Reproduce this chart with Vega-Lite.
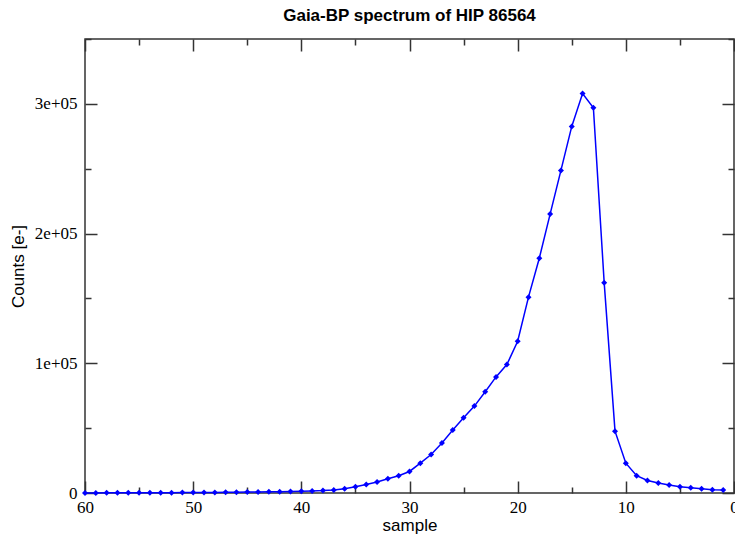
{
  "$schema": "https://vega.github.io/schema/vega-lite/v6.json",
  "width": 649,
  "height": 454,
  "autosize": {"type": "none"},
  "padding": {"left": 85, "top": 39, "right": 1, "bottom": 41},
  "background": "white",
  "title": {"text": "Gaia-BP spectrum of HIP 86564", "font": "Liberation Sans", "fontSize": 17, "fontWeight": "bold", "color": "black", "offset": 5, "anchor": "middle"},
  "config": {
    "view": {"stroke": "#333", "strokeWidth": 1.5},
    "axis": {"labelFont": "Liberation Serif", "labelFontSize": 17, "labelColor": "black", "titleFont": "Liberation Sans", "titleFontSize": 17, "titleFontWeight": "normal", "titleColor": "black", "tickColor": "#333", "tickWidth": 1.5, "domain": false, "grid": false}
  },
  "data": {"values": [
    {"sample": 1, "counts": 2300}, {"sample": 2, "counts": 2600}, {"sample": 3, "counts": 3300}, {"sample": 4, "counts": 4000}, {"sample": 5, "counts": 4800},
    {"sample": 6, "counts": 6100}, {"sample": 7, "counts": 7700}, {"sample": 8, "counts": 9700}, {"sample": 9, "counts": 13300}, {"sample": 10, "counts": 23000},
    {"sample": 11, "counts": 47700}, {"sample": 12, "counts": 162000}, {"sample": 13, "counts": 297000}, {"sample": 14, "counts": 308000}, {"sample": 15, "counts": 282600},
    {"sample": 16, "counts": 248700}, {"sample": 17, "counts": 215000}, {"sample": 18, "counts": 181000}, {"sample": 19, "counts": 151000}, {"sample": 20, "counts": 117000},
    {"sample": 21, "counts": 99000}, {"sample": 22, "counts": 89500}, {"sample": 23, "counts": 78000}, {"sample": 24, "counts": 67000}, {"sample": 25, "counts": 58000},
    {"sample": 26, "counts": 48500}, {"sample": 27, "counts": 38500}, {"sample": 28, "counts": 29700}, {"sample": 29, "counts": 23000}, {"sample": 30, "counts": 16600},
    {"sample": 31, "counts": 13300}, {"sample": 32, "counts": 11000}, {"sample": 33, "counts": 8500}, {"sample": 34, "counts": 6600}, {"sample": 35, "counts": 4800},
    {"sample": 36, "counts": 3300}, {"sample": 37, "counts": 2400}, {"sample": 38, "counts": 1900}, {"sample": 39, "counts": 1600}, {"sample": 40, "counts": 1400},
    {"sample": 41, "counts": 1200}, {"sample": 42, "counts": 1050}, {"sample": 43, "counts": 900}, {"sample": 44, "counts": 800}, {"sample": 45, "counts": 700},
    {"sample": 46, "counts": 600}, {"sample": 47, "counts": 500}, {"sample": 48, "counts": 450}, {"sample": 49, "counts": 400}, {"sample": 50, "counts": 350},
    {"sample": 51, "counts": 300}, {"sample": 52, "counts": 260}, {"sample": 53, "counts": 220}, {"sample": 54, "counts": 190}, {"sample": 55, "counts": 160},
    {"sample": 56, "counts": 140}, {"sample": 57, "counts": 120}, {"sample": 58, "counts": 100}, {"sample": 59, "counts": 80}, {"sample": 60, "counts": 60}
  ]},
  "layer": [
    {
      "mark": {"type": "line", "color": "#0000ff", "strokeWidth": 1.5},
      "encoding": {
        "x": {"field": "sample", "type": "quantitative", "scale": {"domain": [0, 60], "reverse": true, "nice": false, "zero": false},
          "axis": {"orient": "bottom", "title": "sample", "values": [0,5,10,15,20,25,30,35,40,45,50,55,60], "labelExpr": "datum.value % 10 === 0 ? datum.label : ''", "labelFlush": false, "labelOverlap": false, "labelBound": false, "labelPadding": 18, "titlePadding": -4,
            "tickSize": {"condition": {"test": "datum.value % 10 === 0", "value": -12}, "value": -6}}},
        "y": {"field": "counts", "type": "quantitative", "scale": {"domain": [0, 350000], "nice": false},
          "axis": {"orient": "left", "title": "Counts [e-]", "values": [0,50000,100000,150000,200000,250000,300000,350000], "labelExpr": "datum.value === 0 ? '0' : (datum.value % 100000 === 0 ? format(datum.value/100000, 'd') + 'e+05' : '')", "labelOverlap": false, "labelFlush": false, "labelBound": false, "labelPadding": 20, "titlePadding": 7,
            "tickSize": {"condition": {"test": "datum.value % 100000 === 0", "value": -12}, "value": -6}}}
      }
    },
    {
      "mark": {"type": "point", "shape": "diamond", "filled": true, "color": "#0000ff", "size": 36, "opacity": 1},
      "encoding": {
        "x": {"field": "sample", "type": "quantitative",
          "axis": {"orient": "top", "title": null, "labels": false, "values": [0,5,10,15,20,25,30,35,40,45,50,55,60],
            "tickSize": {"condition": {"test": "datum.value % 10 === 0", "value": -12}, "value": -6}}},
        "y": {"field": "counts", "type": "quantitative",
          "axis": {"orient": "right", "title": null, "labels": false, "values": [0,50000,100000,150000,200000,250000,300000,350000],
            "tickSize": {"condition": {"test": "datum.value % 100000 === 0", "value": -12}, "value": -6}}}
      }
    }
  ],
  "resolve": {"axis": {"x": "independent", "y": "independent"}}
}
